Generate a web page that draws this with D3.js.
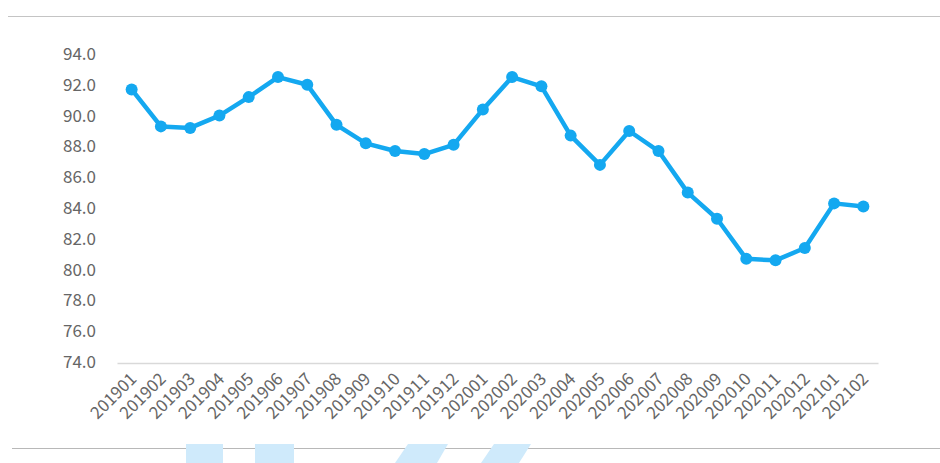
<!DOCTYPE html>
<html><head><meta charset="utf-8">
<script src="https://cdn.jsdelivr.net/npm/d3@7"></script>
<style>body{margin:0;background:#fff}svg{display:block}</style>
</head><body>
<script>
const categories = ["201901","201902","201903","201904","201905","201906","201907","201908","201909","201910","201911","201912","202001","202002","202003","202004","202005","202006","202007","202008","202009","202010","202011","202012","202101","202102"];
const values = [91.7,89.3,89.2,90.0,91.2,92.5,92.0,89.4,88.2,87.7,87.5,88.1,90.4,92.5,91.9,88.7,86.8,89.0,87.7,85.0,83.3,80.7,80.6,81.4,84.3,84.1];
const yTicks = [74,76,78,80,82,84,86,88,90,92,94];

const W = 940, H = 463;
const svg = d3.select("body").append("svg").attr("width", W).attr("height", H);
const font = "'Noto Sans CJK SC','Noto Sans',sans-serif";

// frame lines
svg.append("line").attr("x1",8).attr("x2",940).attr("y1",16.5).attr("y2",16.5).attr("stroke","#c4c4c4").attr("stroke-width",1);
svg.append("line").attr("x1",12).attr("x2",940).attr("y1",448.5).attr("y2",448.5).attr("stroke","#b8b8b8").attr("stroke-width",1);

// watermark shapes
const wm = [
  [[186,444],[223,444],[223,463],[186,463]],
  [[255,444],[294,444],[294,463],[255,463]],
  [[408,444],[448,444],[437,463],[395,463]],
  [[494,444],[531,444],[519,463],[481,463]]
];
svg.append("g").selectAll("path").data(wm).join("path")
  .attr("d", d => "M" + d.map(p => p.join(",")).join("L") + "Z")
  .attr("fill","#cfeafb");

const x = d3.scaleBand().domain(categories).range([117, 878]);
const y = d3.scaleLinear().domain([74, 94]).range([362, 54]);

// y axis labels
const ya = svg.append("g").attr("transform","translate(96,0)")
  .call(d3.axisLeft(y).tickValues(yTicks).tickSize(0).tickPadding(0).tickFormat(d3.format(".1f")));
ya.select(".domain").remove();
ya.selectAll("text").attr("font-size",17).attr("font-family",font).attr("fill","#666666");

// x axis
const xa = svg.append("g").attr("transform","translate(0,363)")
  .call(d3.axisBottom(x).tickSize(0).tickPadding(0));
xa.select(".domain").attr("stroke","#d9d9d9").attr("stroke-width",1.5);
xa.selectAll("text")
  .attr("font-size",17).attr("font-family",font).attr("fill","#666666")
  .attr("text-anchor","end").attr("dy",0)
  .attr("transform","translate(6,17) rotate(-45)");

// line
const cx = d => x(d) + x.bandwidth()/2;
const line = d3.line().x((d,i) => cx(categories[i])).y(d => y(d));
svg.append("path").datum(values).attr("d", line)
  .attr("fill","none").attr("stroke","#14a8f0").attr("stroke-width",4.5).attr("stroke-linejoin","round");
svg.append("g").selectAll("circle").data(values).join("circle")
  .attr("cx",(d,i) => cx(categories[i])).attr("cy", d => y(d)).attr("r",6)
  .attr("fill","#14a8f0");
</script>
</body></html>
